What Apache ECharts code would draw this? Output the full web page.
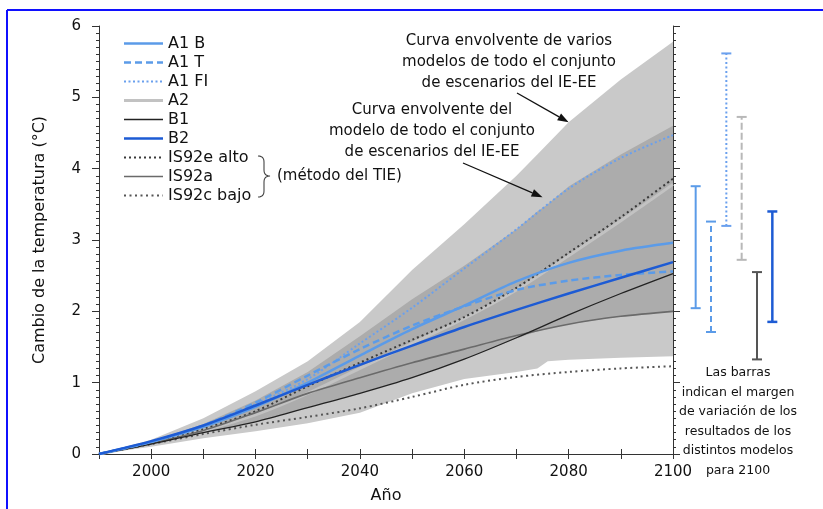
<!DOCTYPE html>
<html>
<head>
<meta charset="utf-8">
<script src="https://cdn.jsdelivr.net/npm/echarts@6/dist/echarts.min.js"></script>
<style>
  html, body { margin: 0; padding: 0; background: #ffffff; }
  #chart { width: 823px; height: 509px; }
</style>
</head>
<body>
<div id="chart"></div>
<script>
// Years of the projections
const years = [1990, 2000, 2010, 2020, 2030, 2040, 2050, 2060, 2070, 2080, 2090, 2100];

// Temperature change (°C) per scenario
const a1b   = [0, 0.17, 0.38, 0.66, 1.00, 1.38, 1.75, 2.08, 2.42, 2.68, 2.85, 2.96];
const a1t   = [0, 0.17, 0.40, 0.72, 1.10, 1.47, 1.80, 2.07, 2.30, 2.43, 2.51, 2.56];
const a1fi  = [0, 0.17, 0.40, 0.70, 1.05, 1.55, 2.05, 2.60, 3.15, 3.72, 4.15, 4.47];
const a2    = [0, 0.15, 0.33, 0.55, 0.85, 1.20, 1.55, 1.90, 2.30, 2.78, 3.27, 3.78];
const b1    = [0, 0.14, 0.30, 0.45, 0.65, 0.85, 1.07, 1.33, 1.63, 1.95, 2.25, 2.53];
const b2    = [0, 0.18, 0.40, 0.68, 0.97, 1.25, 1.52, 1.78, 2.02, 2.25, 2.47, 2.69];
const is92e = [0, 0.16, 0.35, 0.60, 0.95, 1.28, 1.60, 1.92, 2.33, 2.82, 3.32, 3.86];
const is92a = [0, 0.15, 0.33, 0.58, 0.85, 1.07, 1.28, 1.47, 1.66, 1.82, 1.93, 2.00];
const is92c = [0, 0.14, 0.28, 0.41, 0.52, 0.64, 0.80, 0.97, 1.08, 1.15, 1.20, 1.23];

// Envelopes over the full set of SRES scenarios
const bandYears   = [1990, 2000, 2010, 2020, 2030, 2040, 2050, 2060, 2070, 2074, 2076, 2080, 2090, 2100];
const multiHigh   = [0, 0.20, 0.50, 0.88, 1.30, 1.85, 2.58, 3.22, 3.90, 4.20, 4.35, 4.65, 5.25, 5.78];
const multiLow    = [0, 0.10, 0.22, 0.32, 0.43, 0.58, 0.85, 1.05, 1.15, 1.20, 1.30, 1.32, 1.35, 1.37];
const singleHigh  = [0, 0.18, 0.42, 0.75, 1.15, 1.65, 2.17, 2.64, 3.15, 3.40, 3.50, 3.75, 4.20, 4.60];
const singleLow   = [0, 0.14, 0.30, 0.45, 0.65, 0.85, 1.07, 1.33, 1.62, 1.72, 1.76, 1.82, 1.93, 2.00];

// Model ranges in 2100 (bars at the right)
const barNames = ['A1B', 'A1T', 'A1FI', 'A2', 'B1', 'B2'];
const barLow   = [2.09, 1.76, 3.23, 2.76, 1.38, 1.90];
const barHigh  = [3.78, 3.29, 5.62, 4.74, 2.59, 3.43];

// Legend labels, in drawing order of the legend rows
const legendNames = ['A1 B', 'A1 T', 'A1 FI', 'A2', 'B1', 'B2', 'IS92e alto', 'IS92a', 'IS92c bajo'];

const FONT = 'DejaVu Sans';

const lineStyles = [
  { color: '#5b9be8', width: 2.5, dash: null },
  { color: '#5b9be8', width: 2.5, dash: [7, 4] },
  { color: '#6aa0ee', width: 2, dash: [2, 2.5] },
  { color: '#c2c2c2', width: 3, dash: null },
  { color: '#222222', width: 1.3, dash: null },
  { color: '#1d5bd4', width: 2.5, dash: null },
  { color: '#3a3a3a', width: 2, dash: [2, 3] },
  { color: '#6a6a6a', width: 1.6, dash: null },
  { color: '#555555', width: 2, dash: [2, 3.5] }
];
const lineData = [a1b, a1t, a1fi, a2, b1, b2, is92e, is92a, is92c];
// drawing order (bottom to top)
const drawOrder = [3, 6, 7, 8, 4, 2, 1, 0, 5];

const barStyles = [
  { color: '#5b9be8', width: 2, dash: null },
  { color: '#5b9be8', width: 2, dash: [6, 4] },
  { color: '#6aa0ee', width: 2, dash: [2, 2.5] },
  { color: '#b8b8b8', width: 2, dash: [7, 3] },
  { color: '#555555', width: 2, dash: null },
  { color: '#1d5bd4', width: 2.5, dash: null }
];

function toPairs(xs, ys) { return xs.map((x, i) => [x, ys[i]]); }

function bandSeries(name, lo, hi, color) {
  return {
    type: 'custom', name: name, xAxisIndex: 0, yAxisIndex: 0, z: 1, silent: true,
    data: [[1990, 0]],
    renderItem: function (params, api) {
      const pts = [];
      for (let i = 0; i < bandYears.length; i++) pts.push(api.coord([bandYears[i], hi[i]]));
      for (let i = bandYears.length - 1; i >= 0; i--) pts.push(api.coord([bandYears[i], lo[i]]));
      return { type: 'polygon', shape: { points: pts }, style: { fill: color } };
    }
  };
}

const series = [
  bandSeries('multi', multiLow, multiHigh, '#c9c9c9'),
  bandSeries('single', singleLow, singleHigh, '#acacac')
];

drawOrder.forEach((k, n) => {
  const st = lineStyles[k];
  series.push({
    type: 'line', name: legendNames[k], xAxisIndex: 0, yAxisIndex: 0,
    data: toPairs(years, lineData[k]), smooth: 0.3, symbol: 'none', silent: true,
    z: 3 + n,
    lineStyle: { color: st.color, width: st.width, type: st.dash || 'solid', cap: 'butt' }
  });
});

series.push({
  type: 'custom', name: 'rangos2100', xAxisIndex: 2, yAxisIndex: 2, silent: true, z: 5,
  data: barNames.map((n, i) => [i, barLow[i], barHigh[i]]),
  renderItem: function (params, api) {
    const st = barStyles[params.dataIndex];
    const lo = api.coord([api.value(0), api.value(1)]);
    const hi = api.coord([api.value(0), api.value(2)]);
    const cap = 5;
    const s = { stroke: st.color, lineWidth: st.width, lineDash: st.dash || null };
    const c = { stroke: st.color, lineWidth: st.width };
    return {
      type: 'group', children: [
        { type: 'line', shape: { x1: lo[0], y1: lo[1], x2: hi[0], y2: hi[1] }, style: s },
        { type: 'line', shape: { x1: lo[0] - cap, y1: lo[1], x2: lo[0] + cap, y2: lo[1] }, style: c },
        { type: 'line', shape: { x1: hi[0] - cap, y1: hi[1], x2: hi[0] + cap, y2: hi[1] }, style: c }
      ]
    };
  }
});

const axisColor = '#333333';
const tickStyle = { color: axisColor, width: 1 };

const option = {
  animation: false,
  backgroundColor: '#ffffff',
  textStyle: { fontFamily: FONT },
  grid: [
    { left: 99, right: 150, top: 26, bottom: 50 },
    { left: 688, width: 92, top: 26, bottom: 50 }
  ],
  xAxis: [
    {
      gridIndex: 0, type: 'value', min: 1990, max: 2100, interval: 10, position: 'bottom',
      name: 'Año', nameLocation: 'middle', nameGap: 34,
      nameTextStyle: { fontFamily: FONT, fontSize: 16, color: '#111' },
      axisLine: { lineStyle: tickStyle },
      axisTick: { length: 5, lineStyle: tickStyle },
      axisLabel: {
        fontFamily: FONT, fontSize: 15, color: '#111', margin: 11,
        formatter: v => (v % 20 === 0 ? String(v) : '')
      },
      splitLine: { show: false }
    },
    {
      gridIndex: 0, type: 'value', min: 1990, max: 2100, interval: 10, position: 'top',
      axisLine: { lineStyle: tickStyle },
      axisTick: { length: 5, lineStyle: tickStyle },
      axisLabel: { show: false },
      splitLine: { show: false }
    },
    {
      gridIndex: 1, type: 'category', data: barNames, show: false
    }
  ],
  yAxis: [
    {
      gridIndex: 0, type: 'value', min: 0, max: 6, interval: 1, position: 'left',
      name: 'Cambio de la temperatura (°C)', nameLocation: 'middle', nameGap: 51, nameRotate: 90,
      nameTextStyle: { fontFamily: FONT, fontSize: 16, color: '#111' },
      axisLine: { show: true, lineStyle: tickStyle },
      axisTick: { show: true, length: 7, lineStyle: tickStyle },
      minorTick: { show: true, splitNumber: 10, length: 3, lineStyle: tickStyle },
      axisLabel: { fontFamily: FONT, fontSize: 15, color: '#111', margin: 18 },
      splitLine: { show: false }
    },
    {
      gridIndex: 0, type: 'value', min: 0, max: 6, interval: 1, position: 'right',
      axisLine: { show: true, lineStyle: tickStyle },
      axisTick: { show: true, length: 7, lineStyle: tickStyle },
      minorTick: { show: true, splitNumber: 10, length: 3, lineStyle: tickStyle },
      axisLabel: { show: false },
      splitLine: { show: false }
    },
    {
      gridIndex: 1, type: 'value', min: 0, max: 6, show: false
    }
  ],
  series: series
};

const chart = echarts.init(document.getElementById('chart'), null, { renderer: 'canvas' });
chart.setOption(option);

// ---- annotations, legend and frame ----
function arrow(tail, tip) {
  const dx = tip[0] - tail[0], dy = tip[1] - tail[1];
  const len = Math.sqrt(dx * dx + dy * dy);
  const ux = dx / len, uy = dy / len;
  const hl = 11, hw = 4;
  const bx = tip[0] - ux * hl, by = tip[1] - uy * hl;
  return [
    { type: 'line', z: 50, shape: { x1: tail[0], y1: tail[1], x2: bx, y2: by },
      style: { stroke: '#111', lineWidth: 1.3 } },
    { type: 'polygon', z: 50, shape: { points: [tip, [bx - uy * hw, by + ux * hw], [bx + uy * hw, by - ux * hw]] },
      style: { fill: '#111' } }
  ];
}

// quadratic curve sampled into a polyline
function quad(p0, c, p1, n) {
  const out = [];
  for (let i = 0; i <= n; i++) {
    const t = i / n, a = (1 - t) * (1 - t), b = 2 * (1 - t) * t, d = t * t;
    out.push([a * p0[0] + b * c[0] + d * p1[0], a * p0[1] + b * c[1] + d * p1[1]]);
  }
  return out;
}

const tip1 = chart.convertToPixel({ gridIndex: 0 }, [2080, 4.65]);
const tip2 = chart.convertToPixel({ gridIndex: 0 }, [2075, 3.6]);

const graphics = [];
// frame
graphics.push({ type: 'line', z: 60, shape: { x1: 7, y1: 10, x2: 823, y2: 10 }, style: { stroke: '#1010ff', lineWidth: 2 } });
graphics.push({ type: 'line', z: 60, shape: { x1: 7, y1: 10, x2: 7, y2: 509 }, style: { stroke: '#1010ff', lineWidth: 2 } });

// legend
legendNames.forEach((name, i) => {
  const st = lineStyles[i];
  const y = 43.5 + i * 19;
  graphics.push({ type: 'line', z: 50, shape: { x1: 124, y1: y, x2: 163, y2: y },
    style: { stroke: st.color, lineWidth: st.width, lineDash: st.dash || null } });
  graphics.push({ type: 'text', z: 50, x: 168, y: y,
    style: { text: name, fontFamily: FONT, fontSize: 16, fill: '#111', verticalAlign: 'middle' } });
});
// brace grouping the IS92 rows
const brace = [].concat(
  quad([258, 156], [264, 156], [264, 162], 6),
  quad([264, 170], [264, 176], [270, 176], 6),
  quad([270, 176], [264, 176], [264, 182], 6),
  quad([264, 191], [264, 197], [258, 197], 6)
);
graphics.push({ type: 'polyline', z: 50, shape: { points: brace },
  style: { stroke: '#444', lineWidth: 1.1, fill: null } });
graphics.push({ type: 'text', z: 50, x: 277, y: 176,
  style: { text: '(método del TIE)', fontFamily: FONT, fontSize: 15, fill: '#111', verticalAlign: 'middle' } });

// envelope captions
graphics.push({ type: 'text', z: 50, x: 509, y: 31,
  style: { text: 'Curva envolvente de varios\nmodelos de todo el conjunto\nde escenarios del IE-EE',
    fontFamily: FONT, fontSize: 15, lineHeight: 21, fill: '#111', align: 'center' } });
graphics.push({ type: 'text', z: 50, x: 432, y: 100,
  style: { text: 'Curva envolvente del\nmodelo de todo el conjunto\nde escenarios del IE-EE',
    fontFamily: FONT, fontSize: 15, lineHeight: 21, fill: '#111', align: 'center' } });
arrow([517, 93], tip1).forEach(g => graphics.push(g));
arrow([463, 163], tip2).forEach(g => graphics.push(g));

// note under the bars
graphics.push({ type: 'text', z: 50, x: 738, y: 363,
  style: { text: 'Las barras\nindican el margen\nde variación de los\nresultados de los\ndistintos modelos\npara 2100',
    fontFamily: FONT, fontSize: 12.5, lineHeight: 19.5, fill: '#111', align: 'center' } });

chart.setOption({ graphic: graphics });
</script>
</body>
</html>
